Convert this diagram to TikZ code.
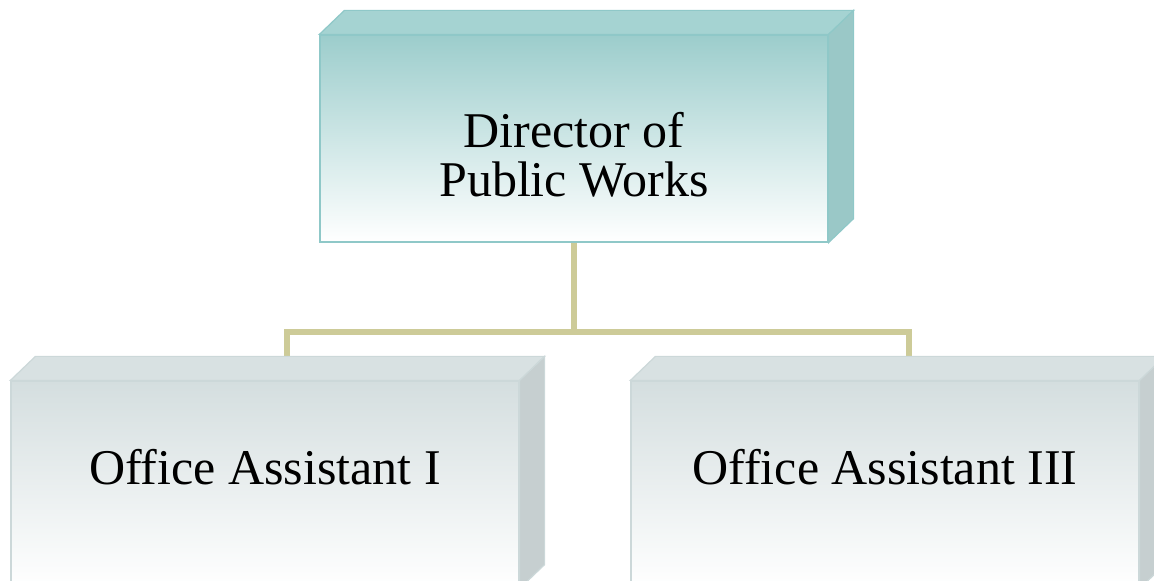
\documentclass[tikz,border=0pt]{standalone}
\usepackage{fontspec}
\setmainfont{Liberation Serif}
\definecolor{dirfront}{HTML}{9CCDCC}
\definecolor{dirtop}{HTML}{A5D3D2}
\definecolor{dirside}{HTML}{9AC8C7}
\definecolor{dirline}{HTML}{8FC8C8}
\definecolor{asstfront}{HTML}{D4DEDF}
\definecolor{assttop}{HTML}{D8E1E2}
\definecolor{asstside}{HTML}{C6CFD0}
\definecolor{asstline}{HTML}{CCD8D9}
\definecolor{linkcol}{HTML}{CDCB98}
\tikzset{
	box/.style={rectangle, inner sep=0pt, minimum width=508pt, minimum height=207pt,
		line width=1.2pt, align=center, font=\fontsize{50}{49}\selectfont},
	dirbox/.style={box, draw=dirline, top color=dirfront, bottom color=white,
		text height=117pt, text depth=0pt},
	asstbox/.style={box, draw=asstline, top color=asstfront, bottom color=white,
		text height=34pt, text depth=33pt},
	orgline/.style={draw=linkcol, line width=6pt},
}
\begin{document}
\begin{tikzpicture}[x=1pt,y=1pt]
		\useasboundingbox (0,0) rectangle (1154,581);
		\clip (0,0) rectangle (1154,581);
		% boxes (front faces)
		\node[dirbox]  (dir)   at (574,442.5) {Director of\\Public Works};
		\node[asstbox] (asst1) at (265,96.5)  {Office Assistant I};
		\node[asstbox] (asst3) at (885,96.5)  {Office Assistant III};
		% connectors
		\draw[orgline] (dir.south) |- ([xshift=22pt,yshift=48pt]asst1.north) -- ([xshift=22pt]asst1.north);
		\draw[orgline] (dir.south) |- ([xshift=24pt,yshift=48pt]asst3.north) -- ([xshift=24pt]asst3.north);
		% top and side faces
		\foreach \n/\tc/\sc/\lc in {dir/dirtop/dirside/dirline, asst1/assttop/asstside/asstline, asst3/assttop/asstside/asstline}{
			\draw[fill=\tc, draw=\lc, line width=1.2pt] (\n.north west) -- ++(25,24) -- ([shift={(25,24)}]\n.north east) -- (\n.north east) -- cycle;
			\draw[fill=\sc, draw=\lc, line width=1.2pt] (\n.north east) -- ++(25,24) -- ([shift={(25,24)}]\n.south east) -- (\n.south east) -- cycle;
		}
	\end{tikzpicture}
\end{document}
